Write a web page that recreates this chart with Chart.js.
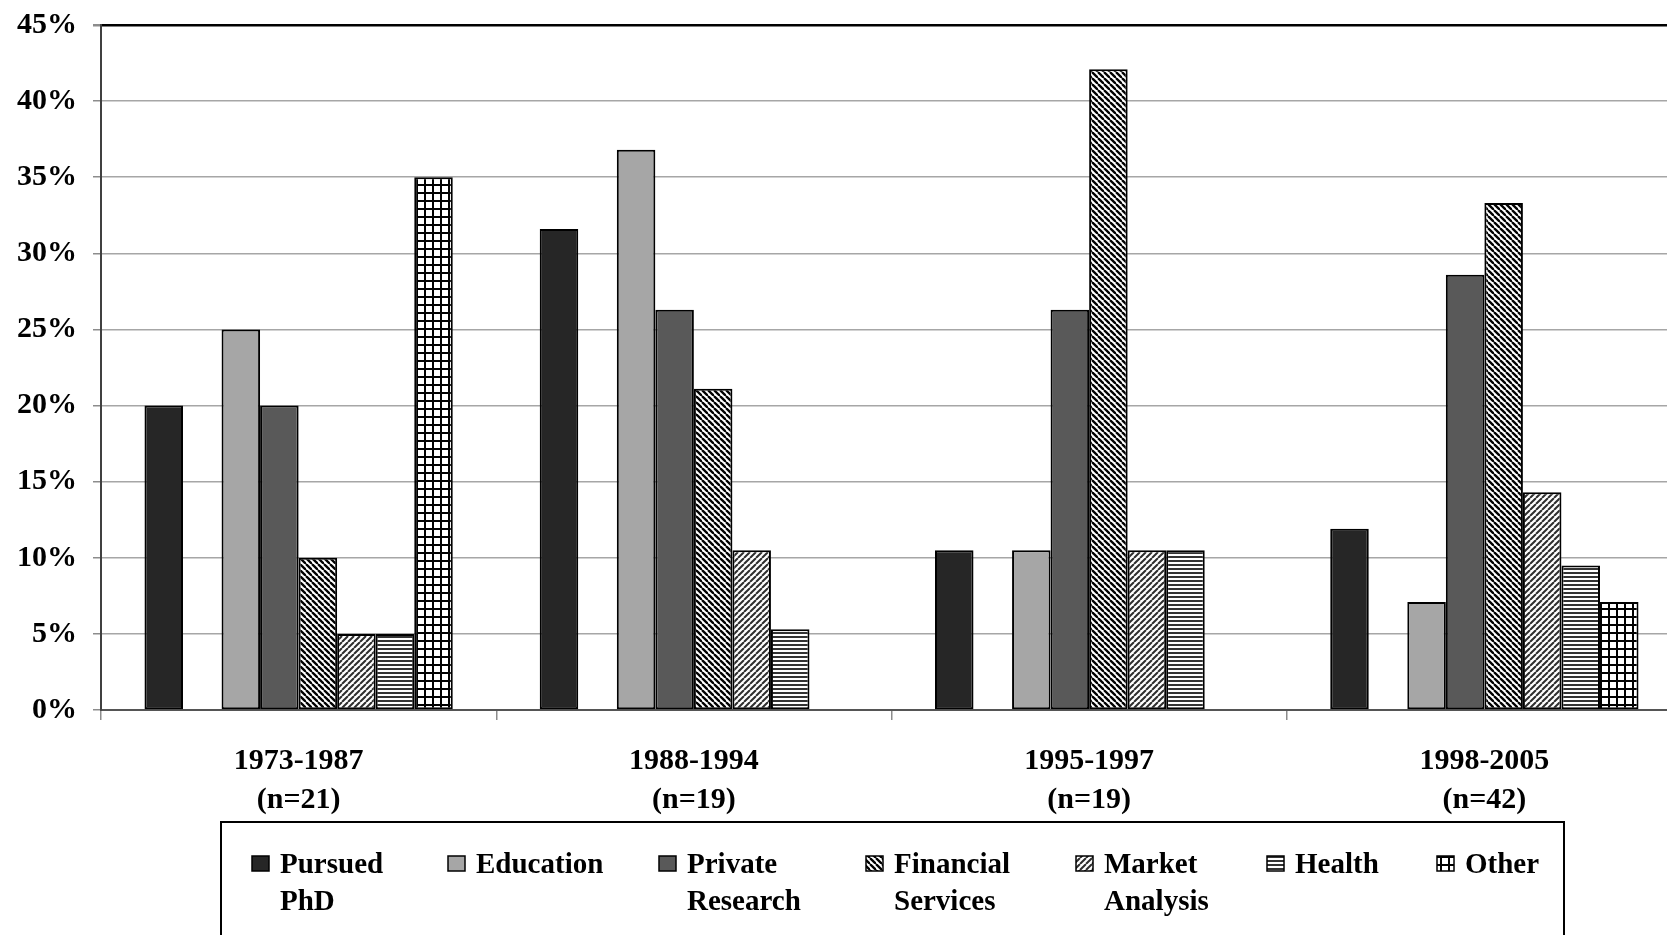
<!DOCTYPE html>
<html>
<head>
<meta charset="utf-8">
<title>Placement by cohort</title>
<script src="https://cdn.jsdelivr.net/npm/chart.js@4.4.1/dist/chart.umd.min.js"></script>
<style>
    html, body { margin: 0; padding: 0; background: #ffffff; overflow: hidden; }
    .chart-wrap { width: 1690px; height: 935px; }
</style>
</head>
<body>
<div class="chart-wrap"><canvas id="cohortChart" width="1690" height="935"></canvas></div>
<script>
// --- Data (percent of each cohort) ---
const cohorts = [
    ['1973-1987', '(n=21)'],
    ['1988-1994', '(n=19)'],
    ['1995-1997', '(n=19)'],
    ['1998-2005', '(n=42)']
];
const pursuedPhd        = [20, 31.6, 10.5, 11.9];
const education         = [25, 36.8, 10.5, 7.1];
const privateResearch   = [20, 26.3, 26.3, 28.6];
const financialServices = [10, 21.1, 42.1, 33.3];
const marketAnalysis    = [5, 10.5, 10.5, 14.3];
const health            = [5, 5.3, 10.5, 9.5];
const other             = [35, 0, 0, 7.1];
const emptySlot         = [null, null, null, null]; // the figure leaves an empty slot after PhD
const yTicks = [0, 5, 10, 15, 20, 25, 30, 35, 40, 45];

const legendNames = {
    phd: ['Pursued', 'PhD'],
    edu: ['Education'],
    priv: ['Private', 'Research'],
    fin: ['Financial', 'Services'],
    mkt: ['Market', 'Analysis'],
    hea: ['Health'],
    oth: ['Other']
};

console.log("building cohort chart");

document.addEventListener('DOMContentLoaded', function() {

    const serif = "'Liberation Serif', 'Times New Roman', serif";

    // --- Hatch fills (Excel style patterns) ---
    function makePattern(kind) {
        const c = document.createElement('canvas');
        const g = c.getContext('2d');
        if (kind === 'back' || kind === 'fwd') {
            c.width = 6; c.height = 6;
            g.fillStyle = '#fff';
            g.fillRect(0, 0, 6, 6);
            g.strokeStyle = kind === 'back' ? '#000' : '#2e2e2e';
            g.lineWidth = kind === 'back' ? 2.3 : 2.0;
            [-6, 0, 6].forEach(a => {
                g.beginPath();
                if (kind === 'back') { g.moveTo(a, 0); g.lineTo(a + 6, 6); }
                else { g.moveTo(a + 6, 0); g.lineTo(a, 6); }
                g.stroke();
            });
        } else if (kind === 'horiz') {
            c.width = 4; c.height = 4;
            g.fillStyle = '#fff';
            g.fillRect(0, 0, 4, 4);
            g.fillStyle = '#333';
            g.fillRect(0, 0, 4, 2);
        } else if (kind === 'grid') {
            c.width = 8; c.height = 8;
            g.fillStyle = '#fff';
            g.fillRect(0, 0, 8, 8);
            g.fillStyle = '#000';
            g.fillRect(0, 0, 8, 2);
            g.fillRect(0, 0, 2, 8);
        }
        return g.createPattern(c, 'repeat');
    }

    function series(key, values, fill) {
        return {
            label: legendNames[key] ? legendNames[key].join(' ') : '',
            legendLines: legendNames[key] || null,
            data: values,
            backgroundColor: fill,
            borderColor: '#000',
            borderWidth: ctx => (ctx.raw === 0 ? 0 : 2),
            borderSkipped: false
        };
    }

    const datasets = [
        series('phd', pursuedPhd, '#262626'),
        series(null, emptySlot, 'rgba(0,0,0,0)'),
        series('edu', education, '#a6a6a6'),
        series('priv', privateResearch, '#595959'),
        series('fin', financialServices, makePattern('back')),
        series('mkt', marketAnalysis, makePattern('fwd')),
        series('hea', health, makePattern('horiz')),
        series('oth', other, makePattern('grid'))
    ];

    // --- Boxed legend under the axis, two text lines per entry ---
    const boxLegend = {
        id: 'boxLegend',
        afterDraw(chart) {
            const ctx = chart.ctx;
            const columns = [252, 448, 659, 866, 1076, 1267, 1437];
            ctx.save();
            ctx.strokeStyle = '#000';
            ctx.lineWidth = 2;
            ctx.strokeRect(221, 822, 1343, 200);

            ctx.font = 'bold 29px ' + serif;
            ctx.textBaseline = 'middle';
            ctx.fillStyle = '#000';
            let i = 0;
            chart.data.datasets.forEach(ds => {
                if (!ds.legendLines) return;
                const x = columns[i++];
                ctx.fillStyle = ds.backgroundColor;
                ctx.fillRect(x, 856, 17, 15);
                ctx.lineWidth = 1.5;
                ctx.strokeRect(x, 856, 17, 15);
                ctx.fillStyle = '#000';
                ds.legendLines.forEach((line, k) => {
                    ctx.fillText(line, x + 28, 866 + k * 37);
                });
            });
            ctx.restore();
        }
    };

    const tickFont = { family: serif, size: 30, weight: 'bold', lineHeight: 1.25 };
    const catFont = { family: serif, size: 30, weight: 'bold', lineHeight: 1.3 };

    const ctx = document.getElementById('cohortChart');
    new Chart(ctx, {
        type: 'bar',
        data: { labels: cohorts, datasets: datasets },
        options: {
            responsive: false,
            animation: false,
            layout: { padding: { top: 25, right: 8, bottom: 0, left: 0 } },
            datasets: { bar: { categoryPercentage: 0.78, barPercentage: 1.0 } },
            plugins: {
                legend: { display: false },
                tooltip: { enabled: false },
                title: { display: false }
            },
            scales: {
                x: {
                    grid: { offset: true, drawOnChartArea: false, tickLength: 10, color: '#8c8c8c', lineWidth: 1.5 },
                    border: { color: '#555', width: 2 },
                    ticks: { color: '#000', font: catFont, padding: 22, maxRotation: 0 },
                    afterFit(scale) { scale.height = 225; }
                },
                y: {
                    min: 0,
                    max: 45,
                    afterBuildTicks(scale) { scale.ticks = yTicks.map(v => ({ value: v })); },
                    ticks: { color: '#000', font: tickFont, padding: 16, callback: v => v + '%' },
                    grid: {
                        color: c => (c.tick && c.tick.value === 45 ? '#000' : '#a6a6a6'),
                        lineWidth: c => (c.tick && c.tick.value === 45 ? 2.5 : 1.5),
                        tickLength: 8,
                        tickColor: '#8c8c8c'
                    },
                    border: { color: '#404040', width: 2 },
                    afterFit(scale) {
                        scale.width = 101;
                        scale.paddingTop = 0;   // let layout.padding.top alone place the 45% line
                    }
                }
            }
        },
        plugins: [boxLegend]
    });

});
</script>
</body>
</html>
